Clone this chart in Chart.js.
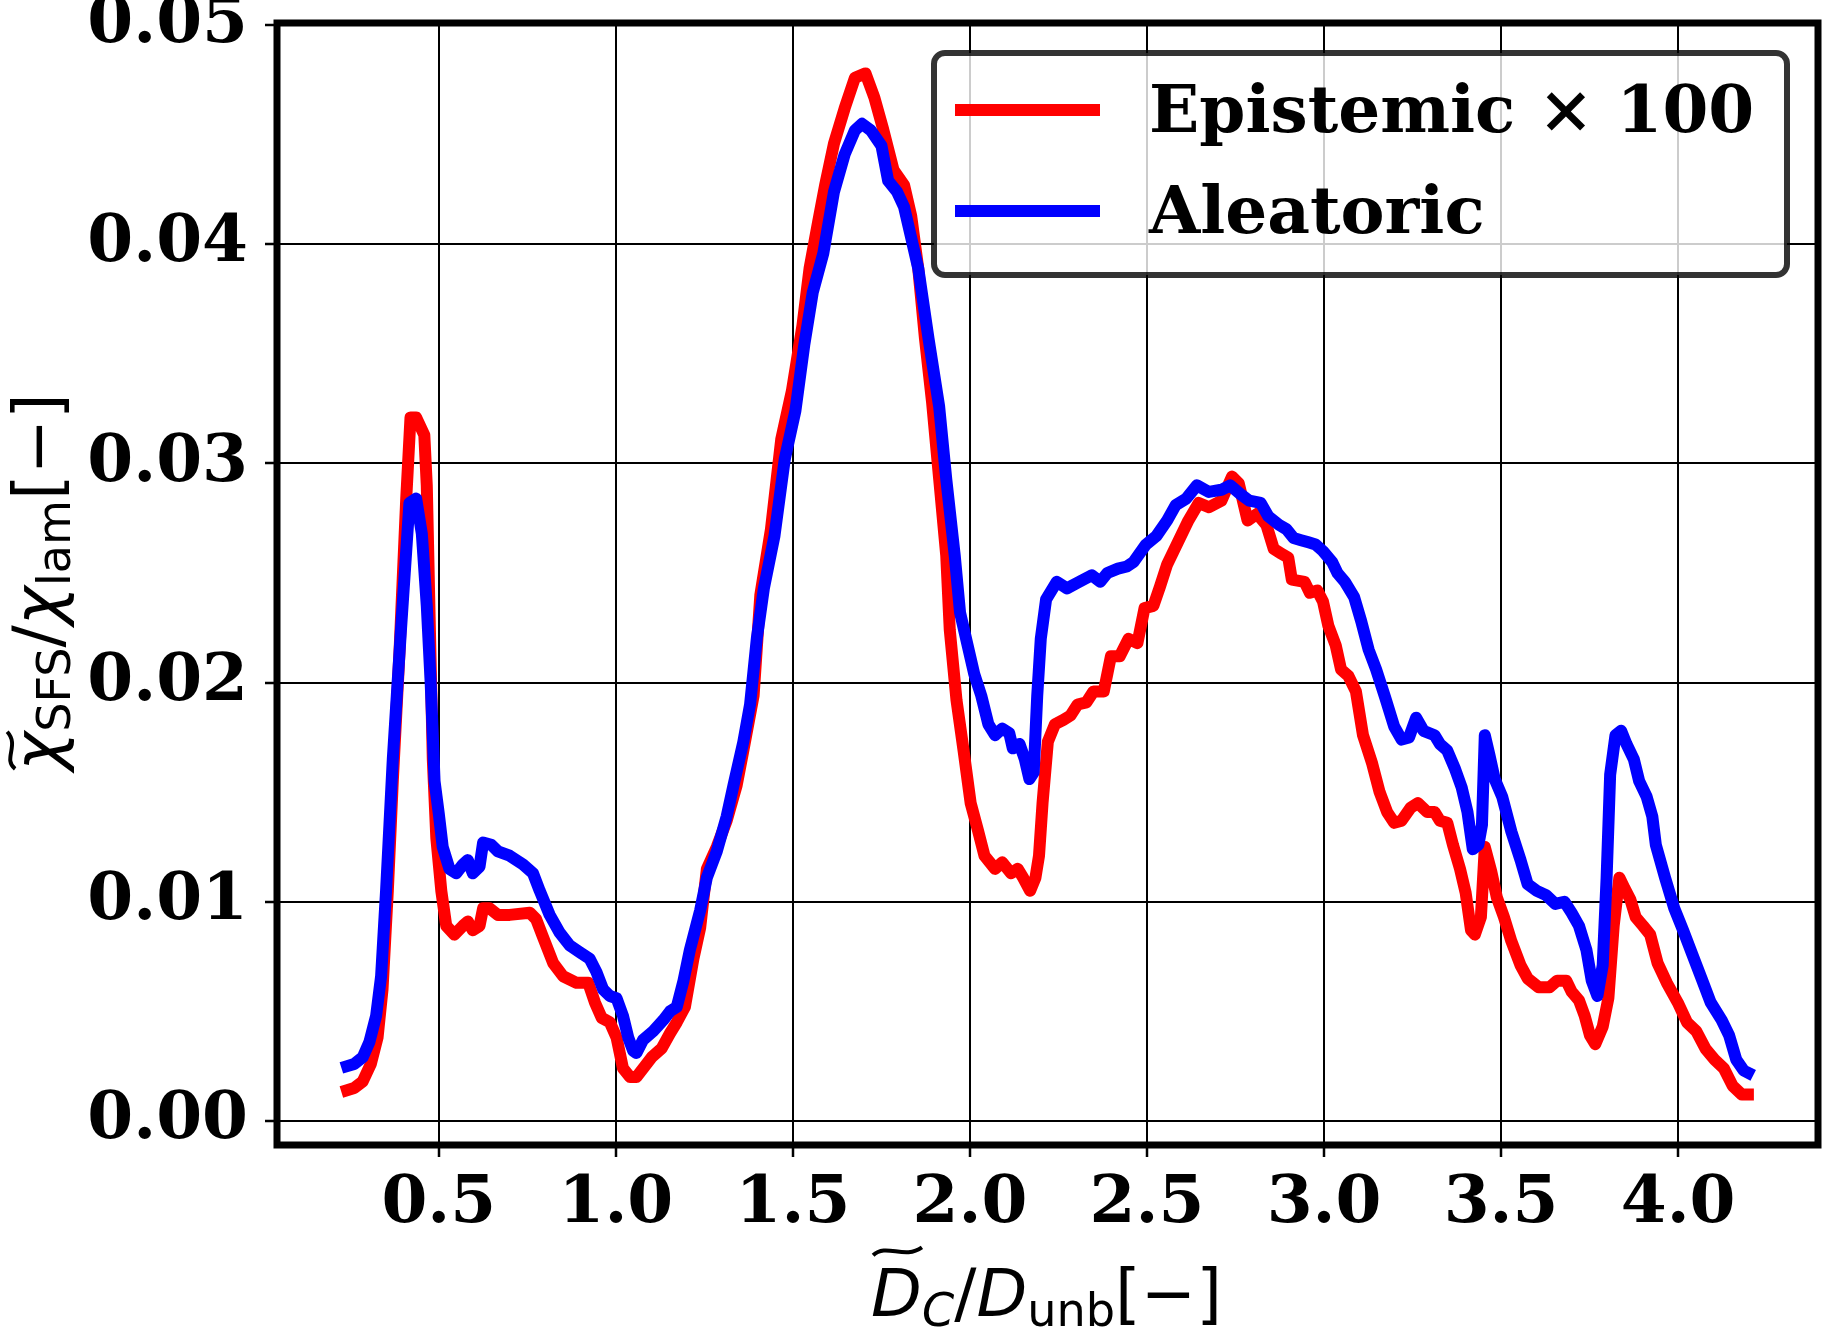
<!DOCTYPE html>
<html lang="en">
<head>
<meta charset="UTF-8">
<title>Epistemic vs Aleatoric uncertainty</title>
<script src="https://cdn.jsdelivr.net/npm/chart.js@4.4.1/dist/chart.umd.min.js"></script>
<style>
    html, body { margin: 0; padding: 0; background: #fff; }
    canvas { display: block; }
</style>
</head>
<body>
<canvas id="chart" width="1825" height="1332"></canvas>
<script>
// values
const seriesNames = ["Epistemic \u00d7 100", "Aleatoric"];

const epiX = [0.241, 0.261, 0.285, 0.308, 0.327, 0.341, 0.356, 0.370, 0.389, 0.408, 0.420, 0.436, 0.459, 0.466, 0.474, 0.483, 0.493, 0.507, 0.521,
    0.544, 0.568, 0.582, 0.596, 0.615, 0.625, 0.643, 0.667, 0.700, 0.757, 0.775, 0.794, 0.823, 0.851, 0.889, 0.922, 0.941, 0.960, 0.983,
    1.002, 1.020, 1.040, 1.058, 1.082, 1.101, 1.129, 1.153, 1.172, 1.195, 1.219, 1.238, 1.257, 1.285, 1.313, 1.341, 1.360, 1.389, 1.408,
    1.438, 1.467, 1.497, 1.527, 1.547, 1.571, 1.591, 1.616, 1.646, 1.675, 1.705, 1.730, 1.754, 1.784, 1.814, 1.834, 1.854, 1.873, 1.893,
    1.913, 1.933, 1.943, 1.962, 1.982, 2.002, 2.022, 2.041, 2.071, 2.091, 2.116, 2.135, 2.150, 2.170, 2.185, 2.195, 2.205, 2.220, 2.240,
    2.264, 2.284, 2.304, 2.329, 2.349, 2.378, 2.398, 2.423, 2.448, 2.473, 2.493, 2.518, 2.537, 2.557, 2.587, 2.617, 2.646, 2.675, 2.710,
    2.740, 2.759, 2.784, 2.811, 2.837, 2.858, 2.878, 2.899, 2.909, 2.945, 2.960, 2.981, 2.997, 3.012, 3.033, 3.048, 3.069, 3.090, 3.110,
    3.136, 3.157, 3.178, 3.198, 3.219, 3.245, 3.265, 3.291, 3.312, 3.327, 3.348, 3.364, 3.384, 3.400, 3.415, 3.426, 3.443, 3.454, 3.472,
    3.488, 3.508, 3.529, 3.555, 3.575, 3.606, 3.637, 3.658, 3.684, 3.699, 3.720, 3.736, 3.751, 3.766, 3.787, 3.803, 3.818, 3.834, 3.849,
    3.865, 3.880, 3.901, 3.921, 3.942, 3.968, 3.999, 4.025, 4.051, 4.077, 4.103, 4.129, 4.154, 4.180, 4.197];
const epiY = [0.0014, 0.0015, 0.0018, 0.0026, 0.0038, 0.0060, 0.0105, 0.0155, 0.0214, 0.0284, 0.0321, 0.0321, 0.0313, 0.0290, 0.0230, 0.0165, 0.0129, 0.0105, 0.0089,
    0.0085, 0.0089, 0.0091, 0.0087, 0.0089, 0.0097, 0.0097, 0.0094, 0.0094, 0.0095, 0.0092, 0.0084, 0.0072, 0.0066, 0.0063, 0.0063, 0.0054, 0.0047, 0.0045,
    0.0038, 0.0024, 0.0020, 0.0020, 0.0025, 0.0029, 0.0033, 0.0040, 0.0045, 0.0052, 0.0074, 0.0088, 0.0115, 0.0125, 0.0137, 0.0153, 0.0169, 0.0194, 0.0240,
    0.0270, 0.0311, 0.0333, 0.0363, 0.0389, 0.0410, 0.0427, 0.0446, 0.0462, 0.0476, 0.0478, 0.0467, 0.0453, 0.0434, 0.0427, 0.0413, 0.0389, 0.0357, 0.0328,
    0.0293, 0.0258, 0.0224, 0.0192, 0.0169, 0.0145, 0.0133, 0.0121, 0.0115, 0.0118, 0.0113, 0.0115, 0.0111, 0.0105, 0.0111, 0.0121, 0.0145, 0.0173, 0.0181,
    0.0183, 0.0185, 0.0190, 0.0191, 0.0196, 0.0196, 0.0212, 0.0212, 0.0220, 0.0218, 0.0234, 0.0235, 0.0244, 0.0254, 0.0264, 0.0274, 0.0282, 0.0280, 0.0283,
    0.0294, 0.0291, 0.0274, 0.0277, 0.0272, 0.0261, 0.0259, 0.0257, 0.0247, 0.0246, 0.0241, 0.0242, 0.0237, 0.0226, 0.0217, 0.0206, 0.0203, 0.0196, 0.0176,
    0.0163, 0.0150, 0.0141, 0.0136, 0.0137, 0.0143, 0.0145, 0.0141, 0.0141, 0.0137, 0.0136, 0.0126, 0.0115, 0.0104, 0.0087, 0.0085, 0.0093, 0.0125, 0.0114,
    0.0102, 0.0093, 0.0082, 0.0071, 0.0065, 0.0061, 0.0061, 0.0064, 0.0064, 0.0059, 0.0055, 0.0048, 0.0039, 0.0035, 0.0043, 0.0056, 0.0089, 0.0111, 0.0106,
    0.0101, 0.0093, 0.0089, 0.0085, 0.0072, 0.0063, 0.0054, 0.0045, 0.0041, 0.0033, 0.0028, 0.0024, 0.0016, 0.0012, 0.0012];

const aleX = [0.241, 0.261, 0.285, 0.304, 0.323, 0.337, 0.351, 0.370, 0.393, 0.417, 0.436, 0.452, 0.466, 0.477, 0.488, 0.500, 0.511,
    0.530, 0.549, 0.568, 0.582, 0.596, 0.615, 0.625, 0.648, 0.667, 0.700, 0.738, 0.766, 0.785, 0.813, 0.841, 0.870, 0.898, 0.926, 0.945,
    0.964, 0.983, 1.002, 1.020, 1.035, 1.049, 1.058, 1.077, 1.106, 1.134, 1.153, 1.172, 1.191, 1.209, 1.238, 1.257, 1.285, 1.313, 1.332,
    1.360, 1.379, 1.398, 1.418, 1.448, 1.477, 1.507, 1.532, 1.556, 1.586, 1.616, 1.646, 1.675, 1.695, 1.720, 1.750, 1.769, 1.794, 1.814,
    1.834, 1.854, 1.883, 1.913, 1.933, 1.957, 1.972, 2.012, 2.032, 2.052, 2.071, 2.091, 2.111, 2.121, 2.140, 2.155, 2.168, 2.180, 2.190,
    2.200, 2.215, 2.230, 2.245, 2.274, 2.309, 2.344, 2.368, 2.388, 2.418, 2.443, 2.462, 2.497, 2.527, 2.557, 2.581, 2.611, 2.641, 2.675,
    2.710, 2.735, 2.764, 2.789, 2.821, 2.842, 2.873, 2.894, 2.914, 2.935, 2.956, 2.976, 2.997, 3.023, 3.038, 3.059, 3.085, 3.105, 3.126,
    3.147, 3.173, 3.198, 3.219, 3.240, 3.260, 3.281, 3.312, 3.327, 3.348, 3.369, 3.389, 3.405, 3.420, 3.436, 3.446, 3.454, 3.467, 3.482,
    3.503, 3.529, 3.555, 3.575, 3.601, 3.627, 3.653, 3.679, 3.699, 3.720, 3.741, 3.756, 3.772, 3.787, 3.798, 3.808, 3.823, 3.839, 3.854,
    3.875, 3.890, 3.911, 3.927, 3.937, 3.963, 3.989, 4.014, 4.040, 4.066, 4.092, 4.123, 4.144, 4.164, 4.185, 4.197];
const aleY = [0.0025, 0.0026, 0.0029, 0.0036, 0.0048, 0.0066, 0.0105, 0.0165, 0.0224, 0.0282, 0.0284, 0.0268, 0.0235, 0.0200, 0.0155, 0.0140, 0.0125,
    0.0115, 0.0113, 0.0117, 0.0119, 0.0113, 0.0116, 0.0127, 0.0126, 0.0123, 0.0121, 0.0117, 0.0113, 0.0105, 0.0094, 0.0086, 0.0080, 0.0077, 0.0074, 0.0068,
    0.0060, 0.0057, 0.0056, 0.0048, 0.0038, 0.0032, 0.0031, 0.0037, 0.0041, 0.0046, 0.0050, 0.0052, 0.0064, 0.0078, 0.0096, 0.0111, 0.0123, 0.0139, 0.0153,
    0.0173, 0.0190, 0.0220, 0.0243, 0.0267, 0.0302, 0.0324, 0.0354, 0.0378, 0.0396, 0.0424, 0.0441, 0.0452, 0.0455, 0.0452, 0.0445, 0.0429, 0.0424, 0.0417,
    0.0403, 0.0389, 0.0357, 0.0326, 0.0293, 0.0258, 0.0232, 0.0204, 0.0194, 0.0181, 0.0176, 0.0179, 0.0177, 0.0170, 0.0172, 0.0165, 0.0156, 0.0159, 0.0194,
    0.0220, 0.0238, 0.0242, 0.0246, 0.0243, 0.0246, 0.0249, 0.0246, 0.0250, 0.0252, 0.0253, 0.0255, 0.0263, 0.0267, 0.0274, 0.0281, 0.0284, 0.0290, 0.0287,
    0.0288, 0.0290, 0.0286, 0.0283, 0.0282, 0.0276, 0.0272, 0.0270, 0.0266, 0.0265, 0.0264, 0.0263, 0.0260, 0.0255, 0.0250, 0.0246, 0.0239, 0.0228, 0.0215,
    0.0206, 0.0193, 0.0180, 0.0174, 0.0175, 0.0184, 0.0178, 0.0176, 0.0172, 0.0169, 0.0161, 0.0152, 0.0141, 0.0124, 0.0126, 0.0135, 0.0176, 0.0167, 0.0156,
    0.0148, 0.0132, 0.0119, 0.0108, 0.0105, 0.0103, 0.0099, 0.0100, 0.0095, 0.0089, 0.0078, 0.0064, 0.0057, 0.0071, 0.0111, 0.0158, 0.0176, 0.0178, 0.0172,
    0.0165, 0.0155, 0.0148, 0.0139, 0.0126, 0.0111, 0.0097, 0.0087, 0.0076, 0.0065, 0.0054, 0.0046, 0.0039, 0.0028, 0.0023, 0.0022];

const xTickValues = [0.5, 1.0, 1.5, 2.0, 2.5, 3.0, 3.5, 4.0];
const yTickValues = [0.00, 0.01, 0.02, 0.03, 0.04, 0.05];

// axis label pieces, drawn mathtext-like (tilde = height of the tilde over the letter, in em)
const xTitle = [
    { t: "D", it: true, tilde: 0.98 },
    { t: "C", it: true, sub: true },
    { t: "/" },
    { t: "D", it: true },
    { t: "unb", sub: true },
    { t: "[\u2212]" }
];
const yTitle = [
    { t: "\u03c7", it: true, tilde: 0.74 },
    { t: "SFS", sub: true },
    { t: "/" },
    { t: "\u03c7", it: true },
    { t: "lam", sub: true },
    { t: "[\u2212]" }
];

const TICK_FONT = { family: "'DejaVu Serif'", size: 66, weight: "bold" };
const TITLE_SIZE = 66;
const LINE_W = 12;

function toPoints(xs, ys) {
    return xs.map((x, i) => ({ x: x, y: ys[i] }));
}

function drawMath(ctx, parts, cx, baseline, size) {
    let total = 0;
    parts.forEach(p => {
        ctx.font = (p.it ? "italic " : "") + (p.sub ? size * 0.7 : size) + "px 'DejaVu Sans'";
        p.w = ctx.measureText(p.t).width;
        total += p.w;
    });
    let x = cx - total / 2;
    ctx.fillStyle = "#000";
    ctx.textBaseline = "alphabetic";
    ctx.textAlign = "left";
    parts.forEach(p => {
        ctx.font = (p.it ? "italic " : "") + (p.sub ? size * 0.7 : size) + "px 'DejaVu Sans'";
        ctx.fillText(p.t, x, baseline + (p.sub ? size * 0.145 : 0));
        if (p.tilde) {
            // wide tilde over the letter
            const y = baseline - size * p.tilde;
            const a = size * 0.06;
            ctx.save();
            ctx.strokeStyle = "#000";
            ctx.lineWidth = size * 0.06;
            ctx.beginPath();
            ctx.moveTo(x + 2, y + a);
            ctx.bezierCurveTo(x + p.w * 0.3, y - 2.2 * a, x + p.w * 0.65, y + 2.2 * a, x + p.w, y - a);
            ctx.stroke();
            ctx.restore();
        }
        x += p.w;
    });
}

function roundRect(ctx, x, y, w, h, r) {
    ctx.beginPath();
    ctx.moveTo(x + r, y);
    ctx.arcTo(x + w, y, x + w, y + h, r);
    ctx.arcTo(x + w, y + h, x, y + h, r);
    ctx.arcTo(x, y + h, x, y, r);
    ctx.arcTo(x, y, x + w, y, r);
    ctx.closePath();
}

const decor = {
    id: "decor",
    afterDatasetsDraw(chart) {
        const { ctx, chartArea: a } = chart;
        ctx.save();
        ctx.strokeStyle = "#000";
        ctx.lineWidth = 7;
        ctx.strokeRect(a.left, a.top, a.right - a.left, a.bottom - a.top);
        ctx.restore();
    },
    afterDraw(chart) {
        const { ctx, chartArea: a } = chart;

        // legend box, upper right
        const bw = 853, bh = 222;
        const bx = a.right - 31 - bw, by = a.top + 30;
        ctx.save();
        roundRect(ctx, bx, by, bw, bh, 11);
        ctx.fillStyle = "rgba(255,255,255,0.8)";
        ctx.fill();
        ctx.lineWidth = 6;
        ctx.strokeStyle = "rgba(0,0,0,0.8)";
        ctx.stroke();

        const order = [1, 0]; // Epistemic first, then Aleatoric
        order.forEach((di, row) => {
            const ds = chart.data.datasets[di];
            const ly = by + 57 + row * 101;
            ctx.beginPath();
            ctx.moveTo(bx + 21, ly);
            ctx.lineTo(bx + 166, ly);
            ctx.lineWidth = LINE_W;
            ctx.lineCap = "butt";
            ctx.strokeStyle = ds.borderColor;
            ctx.stroke();
            ctx.fillStyle = "#000";
            ctx.font = "bold 66px 'DejaVu Serif'";
            ctx.textBaseline = "alphabetic";
            ctx.textAlign = "left";
            ctx.fillText(ds.label, bx + 215, ly + 22);
        });
        ctx.restore();

        // axis titles
        ctx.save();
        drawMath(ctx, xTitle, (a.left + a.right) / 2 - 1, 1316, TITLE_SIZE);
        ctx.translate(60, (a.top + a.bottom) / 2 - 2);
        ctx.rotate(-Math.PI / 2);
        drawMath(ctx, yTitle, 0, 0, TITLE_SIZE);
        ctx.restore();
    }
};

const ctx = document.getElementById("chart").getContext("2d");

new Chart(ctx, {
    type: "line",
    data: {
        datasets: [
            {
                label: seriesNames[1],
                data: toPoints(aleX, aleY),
                borderColor: "#0000ff",
                borderWidth: LINE_W,
                order: 0
            },
            {
                label: seriesNames[0],
                data: toPoints(epiX, epiY),
                borderColor: "#ff0000",
                borderWidth: LINE_W,
                order: 1
            }
        ]
    },
    options: {
        responsive: false,
        devicePixelRatio: 1,
        animation: false,
        layout: { padding: { top: 23, right: 7, left: 0, bottom: 0 } },
        elements: {
            point: { radius: 0 },
            line: { tension: 0, borderJoinStyle: "round", borderCapStyle: "square", fill: false }
        },
        plugins: {
            legend: { display: false },
            tooltip: { enabled: false }
        },
        scales: {
            x: {
                type: "linear",
                min: 0.043,
                max: 4.395,
                afterBuildTicks: s => { s.ticks = xTickValues.map(v => ({ value: v })); },
                afterFit: s => { s.height = 187; s.paddingLeft = 0; s.paddingRight = 0; },
                border: { display: false },
                grid: { color: "#000", lineWidth: 2, tickLength: 12, tickWidth: 2.5, tickColor: "#000" },
                ticks: {
                    color: "#000",
                    font: TICK_FONT,
                    padding: 8,
                    maxRotation: 0,
                    autoSkip: false,
                    callback: v => v.toFixed(1)
                }
            },
            y: {
                type: "linear",
                min: -0.0011,
                max: 0.0501,
                afterBuildTicks: s => { s.ticks = yTickValues.map(v => ({ value: v })); },
                afterFit: s => { s.width = 277; s.paddingTop = 0; s.paddingBottom = 0; },
                border: { display: false },
                grid: { color: "#000", lineWidth: 2, tickLength: 12, tickWidth: 2.5, tickColor: "#000" },
                ticks: {
                    color: "#000",
                    font: TICK_FONT,
                    padding: 17,
                    autoSkip: false,
                    callback: v => v.toFixed(2)
                }
            }
        }
    },
    plugins: [decor]
});
</script>
</body>
</html>
